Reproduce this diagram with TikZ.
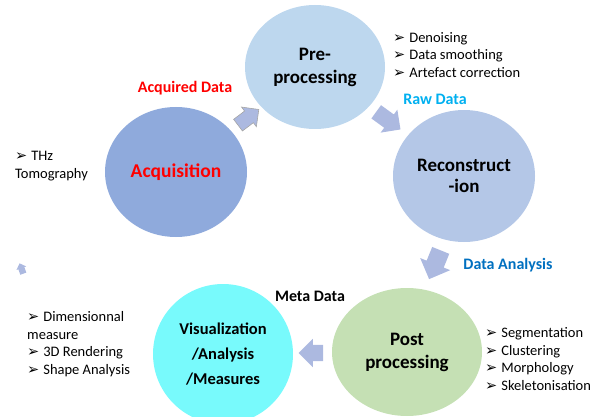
\documentclass[tikz,border=0pt]{standalone}
\usepackage{fontspec}
\setmainfont{Carlito}
\newfontfamily\dejavu{DejaVu Sans}
\usetikzlibrary{shapes.geometric,shapes.arrows,calc}
\definecolor{acqc}{RGB}{143,170,220}
\definecolor{prec}{RGB}{189,215,238}
\definecolor{recc}{RGB}{180,199,231}
\definecolor{postc}{RGB}{197,224,180}
\definecolor{visc}{RGB}{120,250,252}
\definecolor{arrc}{RGB}{172,185,224}
\definecolor{rawc}{RGB}{0,176,240}
\definecolor{anac}{RGB}{0,112,192}
\newcommand\blt{{\dejavu\bfseries\fontsize{14.5}{12}\selectfont ➢}\hspace{4pt}}
\begin{document}
\begin{tikzpicture}[x=1pt,y=-1pt,
  phase/.style={ellipse, inner sep=0pt, align=center, font=\bfseries\fontsize{19}{23}\selectfont},
  blockarrow/.style={single arrow, fill=arrc, inner sep=8pt, minimum height=28pt, single arrow head extend=6pt},
  bullets/.style={anchor=west, inner sep=0pt, align=left, font=\fontsize{14.5}{17.5}\selectfont},
  tag/.style={font=\bfseries\fontsize{16}{18}\selectfont, inner sep=0pt}]
\useasboundingbox (0,0) rectangle (594,417);
% phases
\node[phase, fill=acqc, minimum width=142pt, minimum height=130pt, text=red, font=\bfseries\fontsize{19.5}{23}\selectfont] (acq) at (176,172) {Acquisition};
\node[phase, fill=prec, minimum width=140pt, minimum height=124pt] (pre) at (315,67) {Pre-\\processing};
\node[phase, fill=recc, minimum width=142pt, minimum height=132pt, font=\bfseries\fontsize{19}{21}\selectfont] (rec) at (464,176) {Reconstruct\\-ion};
\node[phase, fill=postc, minimum width=150pt, minimum height=128pt] (post) at (407,352) {Post\\processing};
\node[phase, fill=visc, minimum width=140pt, minimum height=140pt, font=\bfseries\fontsize{16.5}{25}\selectfont] (vis) at (223,354) {Visualization\\/Analysis\\/Measures};
% block arrows
\node[blockarrow, draw=gray!70, line width=0.6pt, inner sep=7pt, minimum height=26pt, single arrow head extend=5pt, rotate=37] (a1) at ($(acq)!0.5!(pre)$) {};
\node[blockarrow, inner sep=8pt, minimum height=30pt, single arrow head extend=6pt, rotate=-36] (a2) at ($(pre)!0.47!(rec)$) {};
\node[blockarrow, inner sep=9pt, minimum height=31pt, single arrow head extend=7pt, rotate=-112] (a3) at ($(rec)!0.48!(post)$) {};
\node[blockarrow, inner sep=8pt, minimum height=21pt, single arrow head extend=6pt, rotate=180] (a4) at ($(post)!0.5!(vis)$) {};
\node[single arrow, fill=arrc, inner sep=3pt, minimum height=11pt, single arrow head extend=2pt, rotate=110] (a5) at (22,270) {};
% tags
\node[tag, text=red] (tacq) at (185,88) {Acquired Data};
\node[tag, text=rawc] (traw) at (435,99) {Raw Data};
\node[tag, text=anac] (tana) at (508,265) {Data Analysis};
\node[tag] (tmeta) at (310,296) {Meta Data};
% bullet lists
\node[bullets] (lpre) at (393,55) {\blt Denoising\\\blt Data smoothing\\\blt Artefact correction};
\node[bullets] (lpost) at (485,359) {\blt Segmentation\\\blt Clustering\\\blt Morphology\\\blt Skeletonisation};
\node[bullets] (lvis) at (27,344) {\blt Dimensionnal\\measure\\\blt 3D Rendering\\\blt Shape Analysis};
\node[bullets] (lacq) at (15,166) {\blt THz\\Tomography};
\end{tikzpicture}
\end{document}
